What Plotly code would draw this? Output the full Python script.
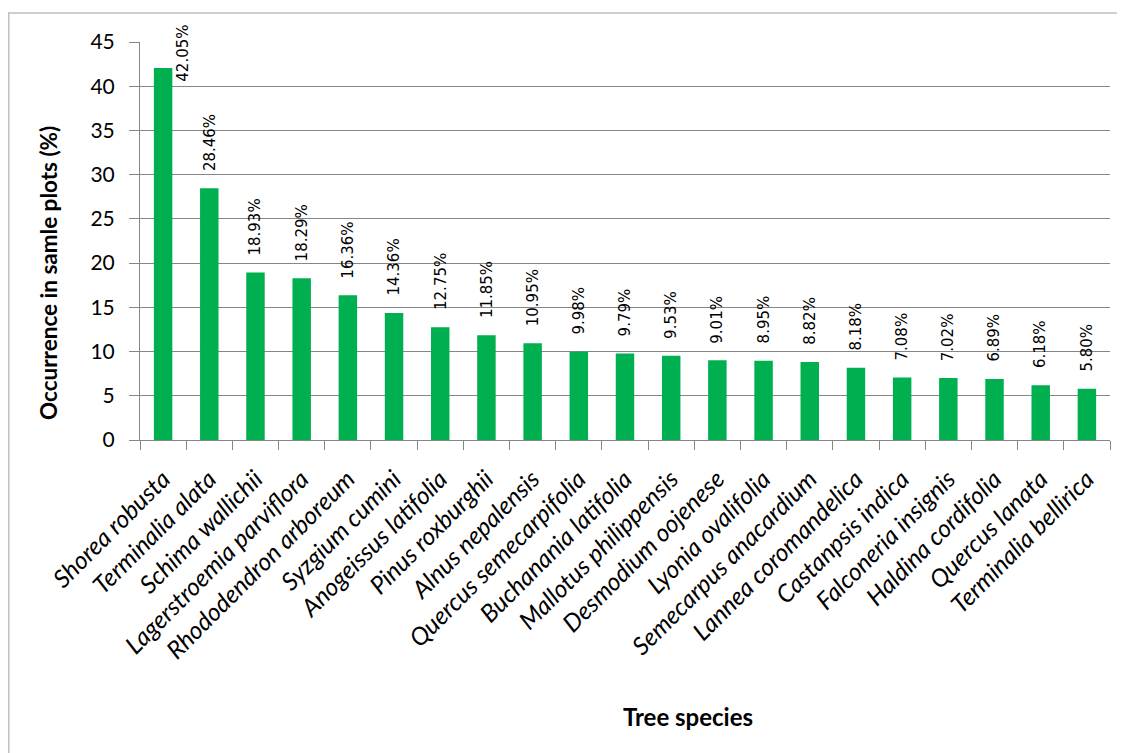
import plotly.graph_objects as go

species = ["Shorea robusta", "Terminalia alata", "Schima wallichii", "Lagerstroemia parviflora",
           "Rhododendron arboreum", "Syzgium cumini", "Anogeissus latifolia", "Pinus roxburghii",
           "Alnus nepalensis", "Quercus semecarpifolia", "Buchanania latifolia", "Mallotus philippensis",
           "Desmodium oojenese", "Lyonia ovalifolia", "Semecarpus anacardium", "Lannea coromandelica",
           "Castanpsis indica", "Falconeria insignis", "Haldina cordifolia", "Quercus lanata",
           "Terminalia bellirica"]
occurrence = [42.05, 28.46, 18.93, 18.29, 16.36, 14.36, 12.75, 11.85, 10.95, 9.98, 9.79, 9.53,
              9.01, 8.95, 8.82, 8.18, 7.08, 7.02, 6.89, 6.18, 5.80]
labels = ["42.05%", "28.46%", "18.93%", "18.29%", "16.36%", "14.36%", "12.75%", "11.85%", "10.95%",
          "9.98%", "9.79%", "9.53%", "9.01%", "8.95%", "8.82%", "8.18%", "7.08%", "7.02%", "6.89%",
          "6.18%", "5.80%"]
y_ticks = [0, 5, 10, 15, 20, 25, 30, 35, 40, 45]

# geometry (figure px; page adds 8px body margin)
L, R, T, B = 132, 23, 34, 321
PW, PH = 1125 - L - R, 753 - T - B

def px(xf):
    return (xf - L) / PW

def py(yf):
    return (T + PH - yf) / PH

fig = go.Figure()
fig.add_trace(go.Bar(x=species, y=occurrence, marker=dict(color="#00B050", line=dict(width=0)),
                     width=0.4, hoverinfo="x+y"))

for i, (s, v, t) in enumerate(zip(species, occurrence, labels)):
    if i == 0:
        xs, ys = 19, -16
    else:
        xs, ys = 0, 15
    fig.add_annotation(x=s, y=v, text=t, textangle=-90, showarrow=False,
                       xanchor="center", yanchor="bottom", xshift=xs, yshift=ys,
                       font=dict(family="DejaVu Sans", size=15, color="#000000"))

fig.add_annotation(xref="paper", yref="paper", x=px(688 - 8), y=py(716 - 8),
                   text="<b>Tree species</b>", showarrow=False, xanchor="center", yanchor="middle",
                   font=dict(family="Lato", size=24, color="#000000"))
fig.add_annotation(xref="paper", yref="paper", x=px(48 - 8), y=py(273 - 8),
                   text="<b>Occurrence in samle plots (%)</b>", textangle=-90, showarrow=False,
                   xanchor="center", yanchor="middle",
                   font=dict(family="Lato", size=22.5, color="#000000"))

fig.update_layout(
    width=1125, height=753,
    margin=dict(l=L, r=R, t=T, b=B),
    paper_bgcolor="white", plot_bgcolor="white",
    showlegend=False, bargap=0.6,
    font=dict(family="Lato", color="#000000"),
    shapes=[
        dict(type="line", xref="paper", yref="paper", x0=px(0), x1=px(1130),
             y0=py(5), y1=py(5), line=dict(color="#BFBFBF", width=1.5)),
        dict(type="line", xref="paper", yref="paper", x0=px(0.8), x1=px(0.8),
             y0=py(5), y1=py(760), line=dict(color="#BFBFBF", width=1.5)),
    ],
)
fig.update_xaxes(
    type="category", showgrid=False, showline=True, linecolor="#868686", linewidth=1,
    ticks="outside", tickson="boundaries", ticklen=9, tickcolor="#868686",
    ticklabelstandoff=14,
    tickangle=-45, tickfont=dict(family="Lato", size=24.5, style="italic"),
)
fig.update_yaxes(
    range=[0, 45], tickvals=y_ticks, showgrid=True, gridcolor="#868686", gridwidth=1,
    showline=True, linecolor="#868686", linewidth=1, zeroline=False,
    ticks="outside", ticklen=10, tickcolor="#868686", ticklabelstandoff=10,
    tickfont=dict(family="Lato", size=21),
)
fig.write_html("out.html")
